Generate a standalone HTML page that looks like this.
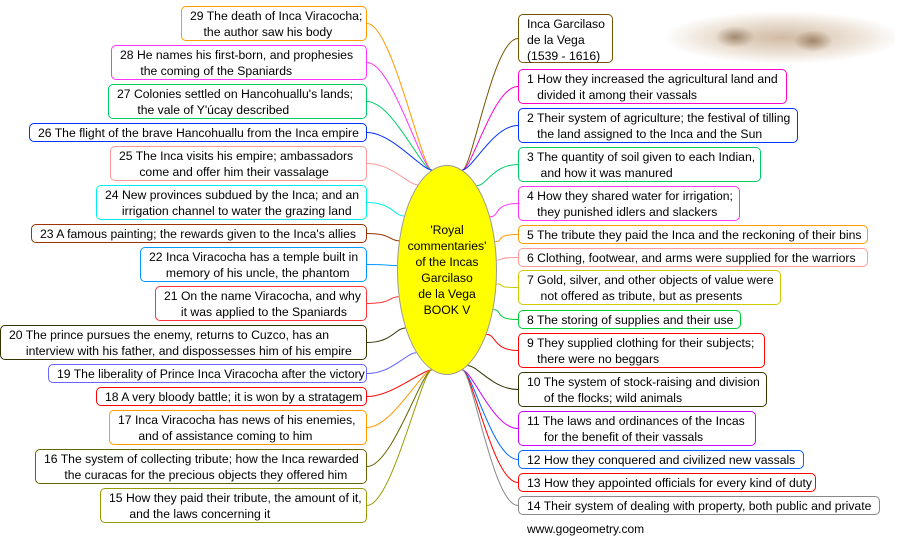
<!DOCTYPE html>
<html><head><meta charset="utf-8"><style>
body{margin:0;width:898px;height:539px;background:#fff;position:relative;overflow:hidden;font-family:"Liberation Sans",Arial,sans-serif;font-size:12.2px;color:#000}
.b{position:absolute;box-sizing:border-box;border:1px solid;border-radius:5px;background:#fff;white-space:pre;line-height:16px;padding:1px 0 0 8px}
#el{position:absolute;left:397px;top:165px;width:100px;height:210px;border-radius:50%;background:#ffff00;border:1px solid #999;box-sizing:border-box;text-align:center;display:flex;align-items:center;justify-content:center;line-height:16px}
svg{position:absolute;left:0;top:0}
</style></head><body>
<svg id="s" width="898" height="539"></svg>
<div style="position:absolute;left:645px;top:10px;width:250px;height:55px;background:radial-gradient(ellipse 48% 48% at 55% 50%,rgba(170,130,90,.55),rgba(200,170,135,.35) 60%,rgba(255,255,255,0) 100%)"></div>
<div style="position:absolute;left:715px;top:26px;width:40px;height:22px;border-radius:50%;background:radial-gradient(ellipse,rgba(110,75,40,.55),rgba(110,75,40,0) 70%)"></div>
<div style="position:absolute;left:793px;top:30px;width:40px;height:22px;border-radius:50%;background:radial-gradient(ellipse,rgba(110,75,40,.55),rgba(110,75,40,0) 70%)"></div>
<div id="el">'Royal<br>commentaries'<br>of the Incas<br>Garcilaso<br>de la Vega<br>BOOK V</div>
<div id="boxes"></div>
<div style="position:absolute;left:527px;top:522px;font-size:12px">www.gogeometry.com</div>
<script>
var L=[
[181,6,41,"#f90","29 The death of Inca Viracocha;\n    the author saw his body"],
[111,45,80,"#f3f","28 He names his first-born, and prophesies\n      the coming of the Spaniards"],
[108,84,119,"#0c6","27 Colonies settled on Hancohuallu's lands;\n      the vale of Y'úcay described"],
[29,123,142,"#03f","26 The flight of the brave Hancohuallu from the Inca empire"],
[110,146,181,"#f99","25 The Inca visits his empire; ambassadors\n      come and offer him their vassalage"],
[96,185,220,"#0ee","24 New provinces subdued by the Inca; and an\n     irrigation channel to water the grazing land"],
[31,224,243,"#930","23 A famous painting; the rewards given to the Inca's allies"],
[140,247,282,"#09f","22 Inca Viracocha has a temple built in\n     memory of his uncle, the phantom"],
[155,286,321,"#f33","21 On the name Viracocha, and why\n     it was applied to the Spaniards"],
[0,325,360,"#330","20 The prince pursues the enemy, returns to Cuzco, has an\n     interview with his father, and dispossesses him of his empire"],
[48,364,383,"#66f","19 The liberality of Prince Inca Viracocha after the victory"],
[96,387,406,"#f00","18 A very bloody battle; it is won by a stratagem"],
[109,410,445,"#f90","17 Inca Viracocha has news of his enemies,\n      and of assistance coming to him"],
[35,449,484,"#660","16 The system of collecting tribute; how the Inca rewarded\n      the curacas for the precious objects they offered him"],
[100,488,523,"#990","15 How they paid their tribute, the amount of it,\n      and the laws concerning it"]];
var R=[
[613,14,63,"#750","Inca Garcilaso\nde la Vega\n(1539 - 1616)"],
[787,69,104,"#f0c","1 How they increased the agricultural land and\n   divided it among their vassals"],
[798,108,143,"#03f","2 Their system of agriculture; the festival of tilling\n   the land assigned to the Inca and the Sun"],
[761,147,182,"#0c6","3 The quantity of soil given to each Indian,\n    and how it was manured"],
[740,186,221,"#f3f","4 How they shared water for irrigation;\n   they punished idlers and slackers"],
[868,225,244,"#f90","5 The tribute they paid the Inca and the reckoning of their bins"],
[868,248,267,"#f99","6 Clothing, footwear, and arms were supplied for the warriors"],
[781,270,305,"#cc0","7 Gold, silver, and other objects of value were\n    not offered as tribute, but as presents"],
[741,310,329,"#0c3","8 The storing of supplies and their use"],
[765,333,368,"#f00","9 They supplied clothing for their subjects;\n   there were no beggars"],
[767,372,407,"#330","10 The system of stock-raising and division\n     of the flocks; wild animals"],
[756,411,446,"#c0f","11 The laws and ordinances of the Incas\n     for the benefit of their vassals"],
[804,450,469,"#06f","12 How they conquered and civilized new vassals"],
[816,473,492,"#f00","13 How they appointed officials for every kind of duty"],
[880,496,515,"#888","14 Their system of dealing with property, both public and private"]];
var h="",p="";
function ep(side,by){var ey=270+(by-270)*0.8;if(ey<170)ey=170;if(ey>370)ey=370;var t=(ey-270)/105;var ex=447+side*50*Math.sqrt(Math.max(0,1-t*t));return [ex,ey];}
L.forEach(function(b){var w=367-b[0],hh=b[2]-b[1],m=(b[1]+b[2])/2;
h+='<div class="b" style="left:'+b[0]+'px;top:'+b[1]+'px;width:'+w+'px;height:'+hh+'px;border-color:'+b[3]+'">'+b[4]+'</div>';
var e=ep(-1,m);p+='<path d="M367 '+m+' C'+(367+25)+' '+m+' '+(e[0]-10)+' '+e[1]+' '+e[0]+' '+e[1]+'" stroke="'+b[3]+'" fill="none"/>';});
R.forEach(function(b){var w=b[0]-518,hh=b[2]-b[1],m=(b[1]+b[2])/2;
h+='<div class="b" style="left:518px;top:'+b[1]+'px;width:'+w+'px;height:'+hh+'px;border-color:'+b[3]+'">'+b[4]+'</div>';
var e=ep(1,m);p+='<path d="M518 '+m+' C'+(518-25)+' '+m+' '+(e[0]+10)+' '+e[1]+' '+e[0]+' '+e[1]+'" stroke="'+b[3]+'" fill="none"/>';});
document.getElementById('boxes').innerHTML=h;document.getElementById('s').innerHTML=p;
</script>
</body></html>
